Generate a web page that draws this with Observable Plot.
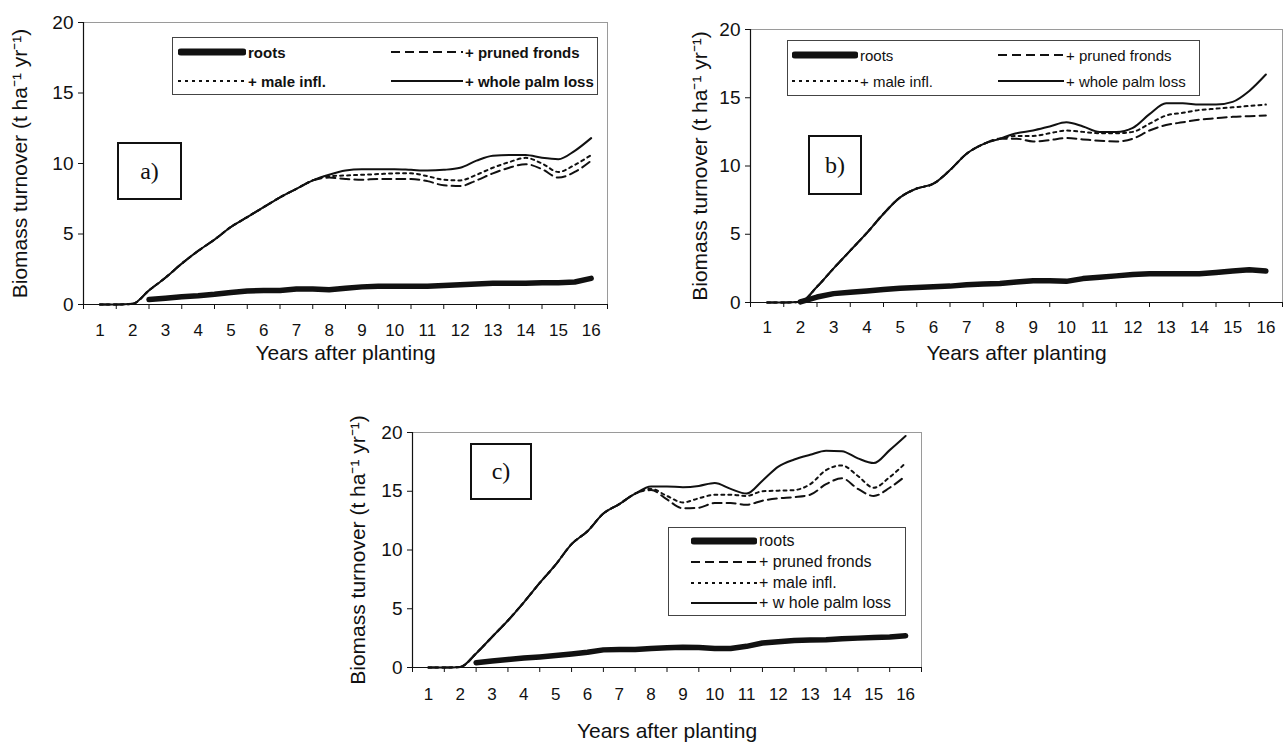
<!DOCTYPE html>
<html>
<head>
<meta charset="utf-8">
<script src="https://cdn.jsdelivr.net/npm/d3@7"></script>
<script src="https://cdn.jsdelivr.net/npm/@observablehq/plot@0.6"></script>
<style>
  body { margin: 0; background: #fff; }
  #page { position: relative; width: 1283px; height: 744px; overflow: hidden; background: #fff;
          font-family: "Liberation Sans", Arial, sans-serif; color: #111; }
  .panel { position: absolute; }
  .panel svg { overflow: visible; }
  .panel [aria-label="y-axis tick label"] text { font-size: 19px; }
  .panel [aria-label="x-axis tick label"] text { font-size: 17px; }
  .panel [aria-label="y-axis label"] text { font-size: 21px; }
  .panel [aria-label="x-axis label"] text { font-size: 21px; }
  .legend { position: absolute; border: 1px solid #444; background: #fff; box-sizing: border-box; }
  .legend .item { position: absolute; display: flex; align-items: center; white-space: nowrap; }
  .legend svg { display: block; }
  .tag { position: absolute; border: 2px solid #111; box-sizing: border-box; background: #fff;
         display: flex; align-items: center; justify-content: center;
         font-family: "Liberation Serif", "Times New Roman", serif; font-size: 24px; }
</style>
</head>
<body>
<div id="page"></div>
<script>
// Half-year positions along the "years after planting" axis
const years = [1,1.5,2,2.5,3,3.5,4,4.5,5,5.5,6,6.5,7,7.5,8,8.5,9,9.5,10,10.5,11,11.5,12,12.5,13,13.5,14,14.5,15,15.5,16];
const yearLabels = [1,2,3,4,5,6,7,8,9,10,11,12,13,14,15,16];
const yTicks = [0,5,10,15,20];

// Panel a) cumulative biomass turnover (t ha-1 yr-1)
const rootsA  = [null,null,null,0.35,0.45,0.55,0.62,0.72,0.85,0.95,1.0,1.0,1.1,1.1,1.05,1.15,1.25,1.3,1.3,1.3,1.3,1.35,1.4,1.45,1.5,1.5,1.5,1.55,1.55,1.6,1.85];
const prunedA = [0,0,0.05,1.0,1.9,2.9,3.8,4.6,5.5,6.2,6.9,7.6,8.2,8.8,9.0,8.9,8.85,8.9,8.9,8.9,8.75,8.45,8.4,8.8,9.3,9.7,9.95,9.6,9.0,9.4,10.2];
const maleA   = [0,0,0.05,1.0,1.9,2.9,3.8,4.6,5.5,6.2,6.9,7.6,8.2,8.8,9.1,9.15,9.2,9.25,9.3,9.3,9.1,8.85,8.8,9.2,9.7,10.1,10.4,10.0,9.4,9.9,10.6];
const wholeA  = [0,0,0.05,1.0,1.9,2.9,3.8,4.6,5.5,6.2,6.9,7.6,8.2,8.8,9.2,9.5,9.6,9.6,9.6,9.55,9.5,9.55,9.7,10.2,10.55,10.6,10.6,10.4,10.3,10.9,11.8];

// Panel b)
const rootsB  = [null,null,0.05,0.4,0.65,0.75,0.85,0.95,1.05,1.1,1.15,1.2,1.3,1.35,1.4,1.5,1.6,1.6,1.55,1.75,1.85,1.95,2.05,2.1,2.1,2.1,2.1,2.2,2.3,2.4,2.3];
const prunedB = [0,0,0.05,1.15,2.5,3.8,5.1,6.5,7.7,8.35,8.7,9.7,10.9,11.6,12.0,12.0,11.8,11.9,12.05,11.95,11.85,11.8,12.0,12.6,13.0,13.2,13.4,13.5,13.6,13.65,13.7];
const maleB   = [0,0,0.05,1.15,2.5,3.8,5.1,6.5,7.7,8.35,8.7,9.7,10.9,11.6,12.0,12.2,12.2,12.4,12.6,12.5,12.4,12.4,12.5,13.1,13.7,13.9,14.1,14.2,14.3,14.4,14.5];
const wholeB  = [0,0,0.05,1.15,2.5,3.8,5.1,6.5,7.7,8.35,8.7,9.7,10.9,11.6,12.0,12.4,12.6,12.9,13.2,12.9,12.5,12.5,12.8,13.8,14.6,14.6,14.5,14.5,14.7,15.5,16.7];

// Panel c)
const rootsC  = [null,null,null,0.4,0.55,0.68,0.8,0.9,1.03,1.15,1.3,1.5,1.53,1.53,1.62,1.68,1.72,1.7,1.62,1.62,1.8,2.08,2.2,2.3,2.33,2.36,2.45,2.5,2.55,2.6,2.7];
const prunedC = [0,0,0.05,1.2,2.6,4.0,5.55,7.2,8.75,10.5,11.6,13.1,13.9,14.8,15.1,14.3,13.55,13.6,14.0,14.0,13.85,14.2,14.4,14.5,14.7,15.6,16.1,15.2,14.6,15.3,16.3];
const maleC   = [0,0,0.05,1.2,2.6,4.0,5.55,7.2,8.75,10.5,11.6,13.1,13.9,14.8,15.2,14.6,14.05,14.4,14.7,14.7,14.6,15.0,15.05,15.1,15.6,16.8,17.2,16.3,15.3,16.2,17.4];
const wholeC  = [0,0,0.05,1.2,2.6,4.0,5.55,7.2,8.75,10.5,11.6,13.1,13.9,14.8,15.4,15.4,15.35,15.45,15.7,15.2,14.8,15.9,17.1,17.7,18.1,18.45,18.4,17.8,17.4,18.5,19.7];

const seriesNames = ["roots", "+ pruned fronds", "+ male infl.", "+ whole palm loss"];

// Line styles shared by plot lines and legend samples
const styles = {
  roots:  {strokeWidth: 5.5, strokeLinecap: "round"},
  pruned: {strokeWidth: 2, strokeDasharray: "9,5"},
  male:   {strokeWidth: 2, strokeDasharray: "3,4"},
  whole:  {strokeWidth: 2}
};

const toRows = (arr) => years.map((x, i) => ({x, y: arr[i]})).filter(d => d.y != null);
const boundaries = yearLabels.map(d => d - 0.5).concat([yearLabels[yearLabels.length - 1] + 0.5]);

function drawPanel({roots, pruned, male, whole, left, top, width, height, margin, yLabelOffset, xTickPad, xLabelOffset}) {
  const chart = Plot.plot({
    width, height,
    marginLeft: margin.left, marginRight: margin.right, marginTop: margin.top, marginBottom: margin.bottom,
    x: {domain: [0.5, 16.5]},
    y: {domain: [0, 20]},
    style: {fontFamily: "Liberation Sans, Arial, sans-serif", color: "#111", background: "transparent"},
    marks: [
      Plot.frame({stroke: "#9a9a9a", strokeWidth: 1}),
      Plot.axisY({ticks: yTicks, tickSize: 5, tickPadding: 5, tickFormat: d => String(d),
                  label: "Biomass turnover (t ha\u207B\u00B9 yr\u207B\u00B9)", labelAnchor: "center",
                  labelArrow: "none", labelOffset: yLabelOffset}),
      Plot.axisX({ticks: boundaries, tickSize: 5, tickFormat: () => "", label: null}),
      Plot.axisX({ticks: yearLabels, tickSize: 0, tickPadding: xTickPad, tickFormat: d => String(d),
                  label: "Years after planting", labelAnchor: "center", labelArrow: "none",
                  labelOffset: xLabelOffset}),
      Plot.ruleX([0.5], {stroke: "#111", strokeWidth: 1.2}),
      Plot.ruleY([0], {stroke: "#111", strokeWidth: 1.2}),
      Plot.line(toRows(whole),  {x: "x", y: "y", curve: "monotone-x", stroke: "#111", ...styles.whole}),
      Plot.line(toRows(male),   {x: "x", y: "y", curve: "monotone-x", stroke: "#111", ...styles.male}),
      Plot.line(toRows(pruned), {x: "x", y: "y", curve: "monotone-x", stroke: "#111", ...styles.pruned}),
      Plot.line(toRows(roots),  {x: "x", y: "y", curve: "linear", stroke: "#111", ...styles.roots})
    ]
  });
  const holder = document.createElement("div");
  holder.className = "panel";
  holder.style.left = left + "px";
  holder.style.top = top + "px";
  holder.appendChild(chart);
  document.getElementById("page").appendChild(holder);
}

function sample(key, w) {
  const s = styles[key];
  const ns = "http://www.w3.org/2000/svg";
  const svg = document.createElementNS(ns, "svg");
  svg.setAttribute("width", w);
  svg.setAttribute("height", 12);
  const line = document.createElementNS(ns, "line");
  const inset = key === "roots" ? 3 : 0;
  line.setAttribute("x1", inset); line.setAttribute("x2", w - inset);
  line.setAttribute("y1", 6); line.setAttribute("y2", 6);
  line.setAttribute("stroke", "#111");
  line.setAttribute("stroke-width", key === "roots" ? 7 : s.strokeWidth);
  if (s.strokeDasharray) line.setAttribute("stroke-dasharray", s.strokeDasharray);
  if (s.strokeLinecap) line.setAttribute("stroke-linecap", s.strokeLinecap);
  svg.appendChild(line);
  return svg;
}

function drawLegend({left, top, width, height, items, font}) {
  const box = document.createElement("div");
  box.className = "legend";
  Object.assign(box.style, {left: left + "px", top: top + "px", width: width + "px", height: height + "px"});
  for (const it of items) {
    const row = document.createElement("div");
    row.className = "item";
    Object.assign(row.style, {left: it.x + "px", top: it.y + "px", height: "18px", font});
    row.appendChild(sample(it.key, it.w));
    const t = document.createElement("span");
    t.textContent = it.text;
    t.style.marginLeft = "2px";
    row.appendChild(t);
    box.appendChild(row);
  }
  document.getElementById("page").appendChild(box);
}

function drawTag({left, top, width, height, text}) {
  const d = document.createElement("div");
  d.className = "tag";
  Object.assign(d.style, {left: left + "px", top: top + "px", width: width + "px", height: height + "px"});
  d.textContent = text;
  document.getElementById("page").appendChild(d);
}

// a)
drawPanel({roots: rootsA, pruned: prunedA, male: maleA, whole: wholeA,
  left: 0, top: 0, width: 640, height: 370,
  margin: {left: 83, right: 33, top: 22, bottom: 66},
  yLabelOffset: 71, xTickPad: 19, xLabelOffset: 55});
// b)
drawPanel({roots: rootsB, pruned: prunedB, male: maleB, whole: wholeB,
  left: 640, top: 0, width: 643, height: 370,
  margin: {left: 110, right: 1, top: 29, bottom: 68},
  yLabelOffset: 58, xTickPad: 18, xLabelOffset: 57});
// c)
drawPanel({roots: rootsC, pruned: prunedC, male: maleC, whole: wholeC,
  left: 330, top: 400, width: 620, height: 344,
  margin: {left: 82, right: 29, top: 32, bottom: 77},
  yLabelOffset: 62, xTickPad: 20, xLabelOffset: 70});

drawLegend({left: 172, top: 37, width: 426, height: 58, font: "bold 15px 'Liberation Sans', Arial, sans-serif",
  items: [
    {key: "roots",  text: seriesNames[0], x: 5,   y: 5,  w: 68},
    {key: "pruned", text: seriesNames[1], x: 218, y: 5,  w: 72},
    {key: "male",   text: seriesNames[2], x: 5,   y: 34, w: 68},
    {key: "whole",  text: seriesNames[3], x: 218, y: 34, w: 72}
  ]});
drawLegend({left: 787, top: 40, width: 413, height: 56, font: "15px 'Liberation Sans', Arial, sans-serif",
  items: [
    {key: "roots",  text: seriesNames[0], x: 4,   y: 5,  w: 66},
    {key: "pruned", text: seriesNames[1], x: 210, y: 5,  w: 66},
    {key: "male",   text: seriesNames[2], x: 4,   y: 31, w: 66},
    {key: "whole",  text: seriesNames[3], x: 210, y: 31, w: 66}
  ]});
drawLegend({left: 668, top: 527, width: 238, height: 89, font: "16px 'Liberation Sans', Arial, sans-serif",
  items: [
    {key: "roots",  text: seriesNames[0], x: 22, y: 4,  w: 66},
    {key: "pruned", text: seriesNames[1], x: 22, y: 25, w: 66},
    {key: "male",   text: seriesNames[2], x: 22, y: 46, w: 66},
    {key: "whole",  text: "+ w hole palm loss", x: 22, y: 66, w: 66}
  ]});

drawTag({left: 117, top: 142, width: 65, height: 58, text: "a)"});
drawTag({left: 808, top: 135, width: 54, height: 60, text: "b)"});
drawTag({left: 470, top: 443, width: 62, height: 57, text: "c)"});
</script>
</body>
</html>
